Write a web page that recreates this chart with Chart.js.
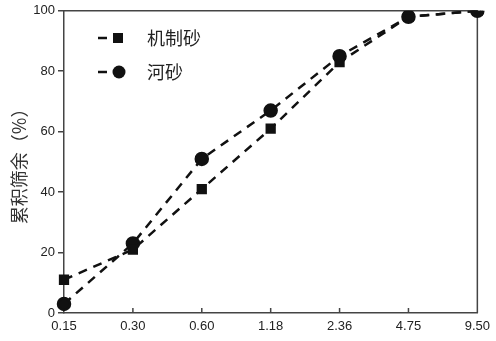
<!DOCTYPE html>
<html>
<head>
<meta charset="utf-8">
<script src="https://cdn.jsdelivr.net/npm/chart.js@4"></script>
<style>
  html, body { margin: 0; padding: 0; background: #fff; }
  #wrap { width: 496px; height: 341px; }
</style>
</head>
<body>
<div id="wrap"><canvas id="c"></canvas></div>
<script>
// sieve sizes (mm) and cumulative retained (%)
const sieves = ['0.15', '0.30', '0.60', '1.18', '2.36', '4.75', '9.50'];
const manufactured = [11, 21, 41, 61, 83, 98, 100];   // 机制砂
const river = [3, 23, 51, 67, 85, 98, 100];            // 河砂
const seriesNames = ['机制砂', '河砂'];

const ink = '#111';
const axisColor = '#444';

// legend drawn inside the plot, top-left
const innerLegend = {
    id: 'innerLegend',
    afterDatasetsDraw(chart) {
        const ctx = chart.ctx;
        chart.data.datasets.forEach((ds, i) => {
            const y = 38 + i * 34;
            ctx.save();
            ctx.strokeStyle = ink;
            ctx.lineWidth = 2.5;
            ctx.beginPath();
            ctx.moveTo(98, y); ctx.lineTo(107, y);
            ctx.stroke();
            ctx.fillStyle = ink;
            if (ds.pointStyle === 'rect') {
                ctx.fillRect(113, y - 5, 10, 10);
            } else {
                ctx.beginPath();
                ctx.arc(119, y, 6.5, 0, Math.PI * 2);
                ctx.fill();
            }
            ctx.font = '18px "Noto Sans CJK SC"';
            ctx.textBaseline = 'middle';
            ctx.fillStyle = '#222';
            ctx.fillText(ds.label, 147, y);
            ctx.restore();
        });
    }
};

// frame: top/right border and inward x ticks
const frame = {
    id: 'frame',
    beforeDatasetsDraw(chart) {
        const { ctx, chartArea: a } = chart;
        const x = chart.scales.x;
        ctx.save();
        ctx.strokeStyle = axisColor;
        ctx.lineWidth = 1.5;
        ctx.beginPath();
        ctx.moveTo(a.left, a.top); ctx.lineTo(a.right, a.top); ctx.lineTo(a.right, a.bottom);
        ctx.stroke();
        ctx.beginPath();
        for (let i = 1; i < sieves.length - 1; i++) {
            const px = x.getPixelForTick(i);
            ctx.moveTo(px, a.bottom); ctx.lineTo(px, a.bottom - 5);
        }
        ctx.stroke();
        ctx.restore();
    }
};

new Chart(document.getElementById('c'), {
    type: 'line',
    data: {
        labels: sieves,
        datasets: [
            { label: seriesNames[0], data: manufactured, borderColor: ink, backgroundColor: ink,
              borderWidth: 2.5, borderDash: [9, 7], pointStyle: 'rect', pointRadius: 5.5, tension: 0 },
            { label: seriesNames[1], data: river, borderColor: ink, backgroundColor: ink,
              borderWidth: 2.5, borderDash: [9, 7], pointStyle: 'circle', pointRadius: 6, tension: 0 }
        ]
    },
    options: {
        responsive: true, maintainAspectRatio: false, animation: false,
        layout: { padding: { top: 7, right: 6, left: 0, bottom: 0 } },
        plugins: { legend: { display: false }, tooltip: { enabled: false } },
        scales: {
            x: {
                offset: false,
                grid: { display: false, drawTicks: false },
                border: { color: axisColor, width: 1.5 },
                ticks: { color: '#222', padding: 6, maxRotation: 0, autoSkip: false,
                         font: { family: '"Liberation Sans"', size: 13 } },
                afterFit(s) { s.height = 28; }
            },
            y: {
                min: 0, max: 100,
                grid: { drawOnChartArea: false, tickLength: 6, color: axisColor, lineWidth: 1.5 },
                border: { color: axisColor, width: 1.5 },
                ticks: { stepSize: 20, color: '#222', padding: 3,
                         font: { family: '"Liberation Sans"', size: 13 } },
                title: { display: true, text: '累积筛余（%）', color: '#333', padding: { top: 8, bottom: 0 },
                         font: { family: '"Noto Sans CJK SC"', size: 18 } },
                afterFit(s) { s.width = 64; }
            }
        }
    },
    plugins: [frame, innerLegend]
});
</script>
</body>
</html>
